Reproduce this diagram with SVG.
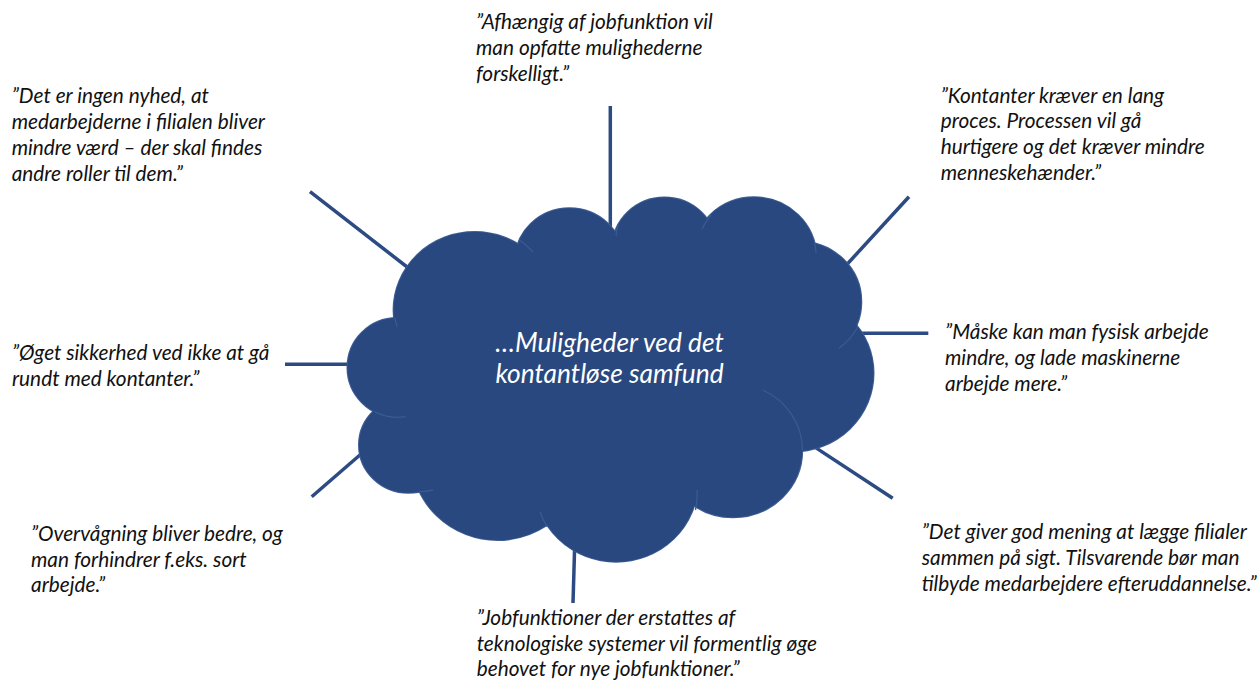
<svg xmlns="http://www.w3.org/2000/svg" width="1260" height="680" viewBox="0 0 1260 680">
  <style>
    .q { font-family: Lato, "Open Sans", "Liberation Sans", sans-serif; font-style: italic; font-size: 20.8px; fill: #111111; }
    .title { font-family: Lato, "Open Sans", "Liberation Sans", sans-serif; font-style: italic; font-size: 26.3px; fill: #ffffff; text-anchor: middle; }
    .conn line { stroke: #2C4B82; stroke-width: 3.5; stroke-linecap: butt; }
    .edge ellipse { fill: none; stroke: #3F5E95; stroke-width: 2; }
    .body ellipse, .body polygon { fill: #29487F; stroke: none; }
    .seam { fill: none; stroke: #3A5A93; stroke-width: 1.3; }
  </style>

  <!-- spokes from the cloud to each quote -->
  <g id="connectors" class="conn">
    <line x1="610.3" y1="106" x2="610.3" y2="228"/>
    <line x1="310" y1="191.7" x2="420" y2="277"/>
    <line x1="909" y1="196.7" x2="840" y2="272"/>
    <line x1="928.3" y1="333.3" x2="850" y2="333.3"/>
    <line x1="892.7" y1="498.3" x2="805" y2="440.6"/>
    <line x1="573" y1="603" x2="574.7" y2="545"/>
    <line x1="311.7" y1="496.7" x2="368" y2="448"/>
    <line x1="285" y1="364.3" x2="355" y2="364.3"/>
  </g>

  <!-- central cloud built from overlapping lobes -->
  <g id="cloud">
    <g class="edge">
      <ellipse cx="474.6" cy="310" rx="81" ry="78"/>
      <ellipse cx="569.5" cy="261" rx="54.5" ry="52.7"/>
      <ellipse cx="664.5" cy="247.7" rx="52" ry="50.3"/>
      <ellipse cx="754.2" cy="257.3" rx="62" ry="60"/>
      <ellipse cx="798.8" cy="301.7" rx="62.5" ry="60.3"/>
      <ellipse cx="792.5" cy="373.3" rx="81" ry="78.3"/>
      <ellipse cx="733.2" cy="450.3" rx="69" ry="67"/>
      <ellipse cx="616.1" cy="483" rx="81.5" ry="78.7"/>
      <ellipse cx="497.7" cy="456.7" rx="86" ry="83.3"/>
      <ellipse cx="408.5" cy="445" rx="49.5" ry="47.8"/>
      <ellipse cx="397" cy="367.5" rx="49.5" ry="49.5"/>
    </g>
    <g class="body">
      <ellipse cx="474.6" cy="310" rx="81" ry="78"/>
      <ellipse cx="569.5" cy="261" rx="54.5" ry="52.7"/>
      <ellipse cx="664.5" cy="247.7" rx="52" ry="50.3"/>
      <ellipse cx="754.2" cy="257.3" rx="62" ry="60"/>
      <ellipse cx="798.8" cy="301.7" rx="62.5" ry="60.3"/>
      <ellipse cx="792.5" cy="373.3" rx="81" ry="78.3"/>
      <ellipse cx="733.2" cy="450.3" rx="69" ry="67"/>
      <ellipse cx="616.1" cy="483" rx="81.5" ry="78.7"/>
      <ellipse cx="497.7" cy="456.7" rx="86" ry="83.3"/>
      <ellipse cx="408.5" cy="445" rx="49.5" ry="47.8"/>
      <ellipse cx="397" cy="367.5" rx="49.5" ry="49.5"/>
      <polygon points="397,367.5 474.6,310 569.5,261 664.5,247.7 754.2,257.3 798.8,301.7 792.5,373.3 733.2,450.3 616.1,483 497.7,456.7 408.5,445"/>
    </g>
    <!-- faint seams where lobes overlap -->
    <path class="seam" d="M519.5,240 A81,78 0 0 1 533,252"/>
    <path class="seam" d="M618,225 A52,50 0 0 0 616,236"/>
    <path class="seam" d="M702,229 A62,60 0 0 1 711,215"/>
    <path class="seam" d="M814.6,243 A62,60 0 0 1 816,253"/>
    <path class="seam" d="M857.8,326.7 A62.5,60.3 0 0 1 838.8,348.3"/>
    <path class="seam" d="M762.8,390 A69,67 0 0 1 802.5,450"/>
    <path class="seam" d="M697,490 A81.5,78.7 0 0 1 695.5,510"/>
    <path class="seam" d="M540,511.7 A81.5,78.7 0 0 0 547,526.7"/>
    <path class="seam" d="M419.4,491.7 A49.5,47.8 0 0 0 433,490"/>
    <path class="seam" d="M374.5,411.7 A49.5,49.5 0 0 0 405.6,416.7"/>
    <path class="seam" d="M395,318 A81,78 0 0 0 397,326.7"/>
    <text class="title" x="609.5" y="351.7">…Muligheder ved det</text>
    <text class="title" x="609.5" y="382.7">kontantløse samfund</text>
  </g>

  <g id="quote-top">
    <text class="q" x="476" y="29">”Afhængig af jobfunktion vil</text>
    <text class="q" x="476" y="55">man opfatte mulighederne</text>
    <text class="q" x="476" y="80.5">forskelligt.”</text>
  </g>

  <g id="quote-top-left">
    <text class="q" x="11.7" y="103.3">”Det er ingen nyhed, at</text>
    <text class="q" x="11.7" y="129.2">medarbejderne i filialen bliver</text>
    <text class="q" x="11.7" y="155">mindre værd – der skal findes</text>
    <text class="q" x="11.7" y="180.5">andre roller til dem.”</text>
  </g>

  <g id="quote-top-right">
    <text class="q" x="940.7" y="102.7">”Kontanter kræver en lang</text>
    <text class="q" x="940.7" y="128.3">proces. Processen vil gå</text>
    <text class="q" x="940.7" y="154">hurtigere og det kræver mindre</text>
    <text class="q" x="940.7" y="179.5">menneskehænder.”</text>
  </g>

  <g id="quote-right">
    <text class="q" x="945" y="339">”Måske kan man fysisk arbejde</text>
    <text class="q" x="945" y="365">mindre, og lade maskinerne</text>
    <text class="q" x="945" y="391">arbejde mere.”</text>
  </g>

  <g id="quote-left">
    <text class="q" x="12" y="359.5">”Øget sikkerhed ved ikke at gå</text>
    <text class="q" x="12" y="385.5">rundt med kontanter.”</text>
  </g>

  <g id="quote-bottom-left">
    <text class="q" x="31" y="540.5">”Overvågning bliver bedre, og</text>
    <text class="q" x="31" y="566.5">man forhindrer f.eks. sort</text>
    <text class="q" x="31" y="592">arbejde.”</text>
  </g>

  <g id="quote-bottom-right">
    <text class="q" x="921.7" y="539.3">”Det giver god mening at lægge filialer</text>
    <text class="q" x="921.7" y="565">sammen på sigt. Tilsvarende bør man</text>
    <text class="q" x="921.7" y="590.5">tilbyde medarbejdere efteruddannelse.”</text>
  </g>

  <g id="quote-bottom">
    <text class="q" x="476.7" y="625">”Jobfunktioner der erstattes af</text>
    <text class="q" x="476.7" y="650.7">teknologiske systemer vil formentlig øge</text>
    <text class="q" x="476.7" y="676">behovet for nye jobfunktioner.”</text>
  </g>
</svg>
